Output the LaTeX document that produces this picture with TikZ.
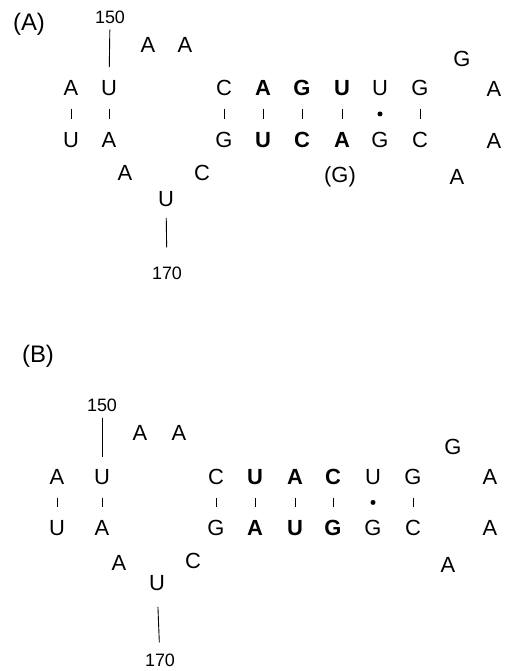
\documentclass[tikz,border=0pt]{standalone}
\usepackage{fontspec}
\setmainfont{Liberation Sans}
\begin{document}
\begin{tikzpicture}[x=1bp,y=-1bp,
  nt/.style={inner sep=0pt, font=\fontsize{22}{24}\selectfont},
  bnt/.style={inner sep=0pt, font=\fontsize{22}{24}\selectfont\bfseries},
  num/.style={inner sep=0pt, font=\fontsize{18}{20}\selectfont},
  lbl/.style={inner sep=0pt, font=\fontsize{24}{26}\selectfont},
  pair/.style={line width=0.9pt, shorten >=13bp, shorten <=13bp},
  tick/.style={line width=0.9pt},
  gu/.style={circle, fill=black, inner sep=0pt, minimum size=5bp}]
\useasboundingbox (0,0) rectangle (508,671);

% ---------------- Panel A ----------------
\node[lbl] (labA) at (29,24) {(A)};
\node[num] (a150) at (110,17) {150};
\node[nt] (aL1) at (148,45) {A};
\node[nt] (aL2) at (185,45) {A};
% row 1
\node[nt] (a11) at (71,88) {A};
\node[nt] (a12) at (109,88) {U};
\node[nt] (a13) at (224,88) {C};
\node[bnt] (a14) at (263,88) {A};
\node[bnt] (a15) at (302,88) {G};
\node[bnt] (a16) at (342,88) {U};
\node[nt] (a17) at (380,88) {U};
\node[nt] (a18) at (420,88) {G};
\node[nt] (a19) at (494,89) {A};
\node[nt] (aGt) at (462,59) {G};
% row 2
\node[nt] (a21) at (71,140) {U};
\node[nt] (a22) at (109,140) {A};
\node[nt] (a23) at (224,140) {G};
\node[bnt] (a24) at (263,140) {U};
\node[bnt] (a25) at (302,140) {C};
\node[bnt] (a26) at (342,140) {A};
\node[nt] (a27) at (380,140) {G};
\node[nt] (a28) at (420,140) {C};
\node[nt] (a29) at (494,141) {A};
% lower loop
\node[nt] (aA3) at (125,173) {A};
\node[nt] (aC3) at (202,173) {C};
\node[nt] (aU3) at (166,199) {U};
\node[num] (a170) at (167,273) {170};
\node[nt] (aGp) at (340,177) {(G)};
\node[nt] (aAb) at (457,177) {A};
% connectors
\draw[tick, shorten <=6bp, shorten >=13bp] (a150) -- (a12);
\draw[tick, shorten <=11bp, shorten >=19bp] (aU3) -- (a170);
\foreach \i in {1,2,3,4,5,6,8} \draw[pair] (a1\i) -- (a2\i);
\path (a17) -- node[gu] (aGU) {} (a27);

% ---------------- Panel B ----------------
\node[lbl] (labB) at (38,356) {(B)};
\node[num] (b150) at (102,405) {150};
\node[nt] (bL1) at (140,433) {A};
\node[nt] (bL2) at (179,433) {A};
% row 1
\node[nt] (b11) at (57,477) {A};
\node[nt] (b12) at (102,477) {U};
\node[nt] (b13) at (216,477) {C};
\node[bnt] (b14) at (255,477) {U};
\node[bnt] (b15) at (295,477) {A};
\node[bnt] (b16) at (333,477) {C};
\node[nt] (b17) at (373,477) {U};
\node[nt] (b18) at (413,477) {G};
\node[nt] (b19) at (490,477) {A};
\node[nt] (bGt) at (453,447) {G};
% row 2
\node[nt] (b21) at (57,528) {U};
\node[nt] (b22) at (102,528) {A};
\node[nt] (b23) at (216,528) {G};
\node[bnt] (b24) at (255,528) {A};
\node[bnt] (b25) at (295,528) {U};
\node[bnt] (b26) at (333,528) {G};
\node[nt] (b27) at (373,528) {G};
\node[nt] (b28) at (413,528) {C};
\node[nt] (b29) at (490,528) {A};
% lower loop
\node[nt] (bA3) at (119,563) {A};
\node[nt] (bC3) at (193,561) {C};
\node[nt] (bU3) at (157,583) {U};
\node[num] (b170) at (160,660) {170};
\node[nt] (bAb) at (448,565) {A};
% connectors
\draw[tick, shorten <=6bp, shorten >=12bp] (b150) -- (b12);
\draw[tick, shorten <=16bp, shorten >=11bp] (bU3) -- (b170);
\foreach \i in {1,2,3,4,5,6,8} \draw[pair] (b1\i) -- (b2\i);
\path (b17) -- node[gu] (bGU) {} (b27);
\end{tikzpicture}
\end{document}
